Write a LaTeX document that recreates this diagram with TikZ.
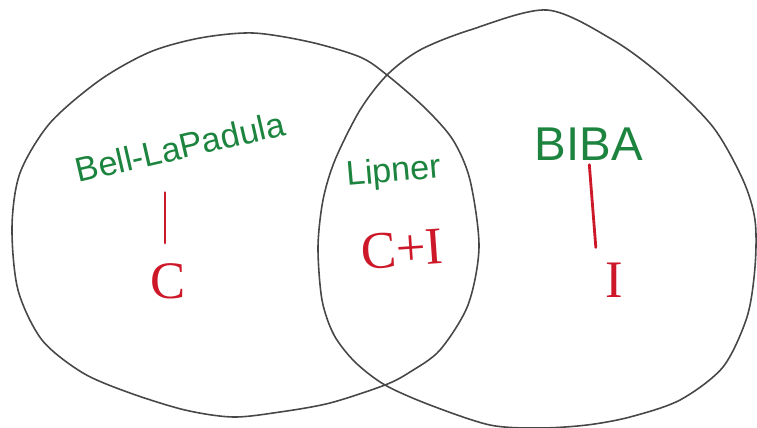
\documentclass[tikz,border=0pt]{standalone}
\usepackage{fontspec}
\setmainfont{Liberation Sans}
\newfontfamily\letterfont{Liberation Serif}
\definecolor{markgreen}{RGB}{28,132,62}
\definecolor{markred}{RGB}{204,24,40}
\begin{document}
\begin{tikzpicture}[x=0.02cm,y=-0.02cm]
\tikzstyle{every node}+=[inner sep=0pt]
\tikzstyle{pencil}=[draw=black!72,line width=0.9pt]
\tikzstyle{model}=[text=markgreen,font=\fontsize{19.5}{20}\selectfont]
\tikzstyle{prop}=[text=markred,font=\letterfont\fontsize{30}{30}\selectfont]
\tikzstyle{tie}=[draw=markred,line width=1.6pt,line cap=round]
\useasboundingbox (0,0) rectangle (757,427);
% the two sets
\draw [pencil] plot [smooth cycle] coordinates {(150,52) (200,38) (253,33) (310,42)
  (360,57) (387,75) (425,108) (453,140) (470,180) (479,247) (468,305) (440,350)
  (410,372) (385,385) (330,403) (280,412) (233,417) (185,410) (130,393) (83,373)
  (42,340) (18,290) (12,227) (20,173) (50,123) (100,80)};
\draw [pencil] plot [smooth cycle] coordinates {(547,10) (613,40) (663,77) (713,127)
  (743,180) (755,220) (755,267) (747,317) (723,367) (680,400) (630,417) (587,425)
  (540,428) (490,425) (430,405) (385,385) (355,362) (334,335) (322,300) (318,247)
  (323,200) (335,160) (360,110) (387,75) (420,50) (470,30)};
% models and what they protect
\node [model,rotate=13] (blp) at (180,147) {Bell-LaPadula};
\node [prop] (c) at (168,281) {C};
\node [model,rotate=5] (lipner) at (394,173) {Lipner};
\node [prop,rotate=4] (ci) at (402,249) {C+I};
\node [model,font=\fontsize{27}{27}\selectfont] (biba) at (589,144) {BIBA};
\node [prop] (i) at (614,280) {I};
\draw [tie,shorten <=0.66cm,shorten >=0.4cm] ([xshift=-0.06cm]c.north |- blp.south) -- ([xshift=-0.06cm]c.north);
\draw [tie,shorten <=0.08cm,shorten >=0.3cm] (biba.south) -- ([xshift=-0.34cm]i.north);
\end{tikzpicture}
\end{document}
